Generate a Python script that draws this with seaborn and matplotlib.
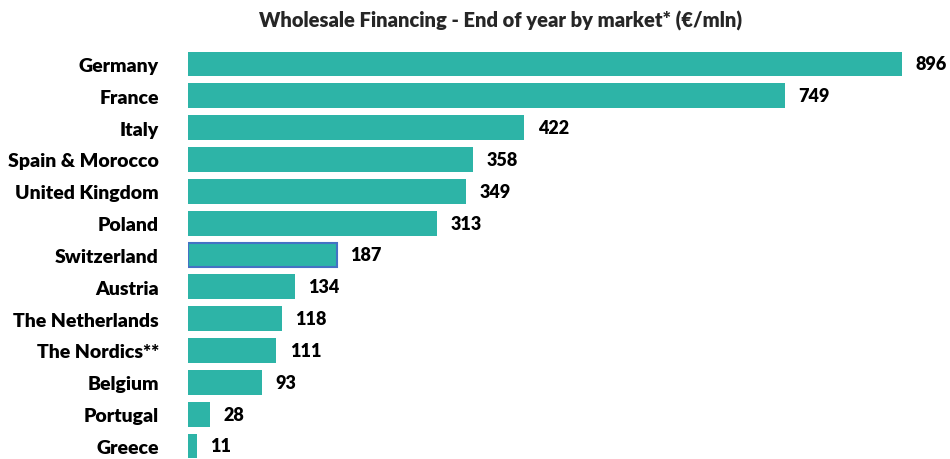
import matplotlib
matplotlib.use("Agg")
import matplotlib.pyplot as plt
import seaborn as sns
import pandas as pd

countries = ["Germany", "France", "Italy", "Spain & Morocco", "United Kingdom", "Poland",
             "Switzerland", "Austria", "The Netherlands", "The Nordics**", "Belgium",
             "Portugal", "Greece"]
values = [896, 749, 422, 358, 349, 313, 187, 134, 118, 111, 93, 28, 11]
title = "Wholesale Financing - End of year by market* (€/mln)"

sns.set_theme(style="white")
plt.rcParams['font.family'] = ['Lato', 'DejaVu Sans']

df = pd.DataFrame({"country": countries, "value": values})
fig = plt.figure(figsize=(9.5, 4.6), dpi=100)
ax = fig.add_axes([188/950, 0, (902-188)/950, 1 - 50/460])
teal = "#2DB4A7"
sns.barplot(data=df, x="value", y="country", color=teal, width=0.78, ax=ax,
            saturation=1, orient="h")
for p, c in zip(ax.patches, countries):
    if c == "Switzerland":
        p.set_edgecolor("#4472C4")
        p.set_linewidth(1.5)
    else:
        p.set_linewidth(0)
ax.set_xlim(0, 896)
ax.set_ylim(12.41, -0.471)
for i, v in enumerate(values):
    ax.text(v + 17, i, str(v), va="center", ha="left", fontsize=13,
            fontweight="heavy", clip_on=False, color="black")
ax.set_xlabel("")
ax.set_ylabel("")
ax.set_xticks([])
ax.tick_params(axis="y", length=0, pad=21)
for lab in ax.get_yticklabels():
    lab.set_fontweight("heavy")
    lab.set_fontsize(14)
    lab.set_color("black")
sns.despine(ax=ax, left=True, bottom=True)
fig.text(501/950, 1 - 21/460, title, ha="center", va="center", fontsize=14.5,
         fontweight="heavy")
fig.savefig("out.png", dpi=100)
